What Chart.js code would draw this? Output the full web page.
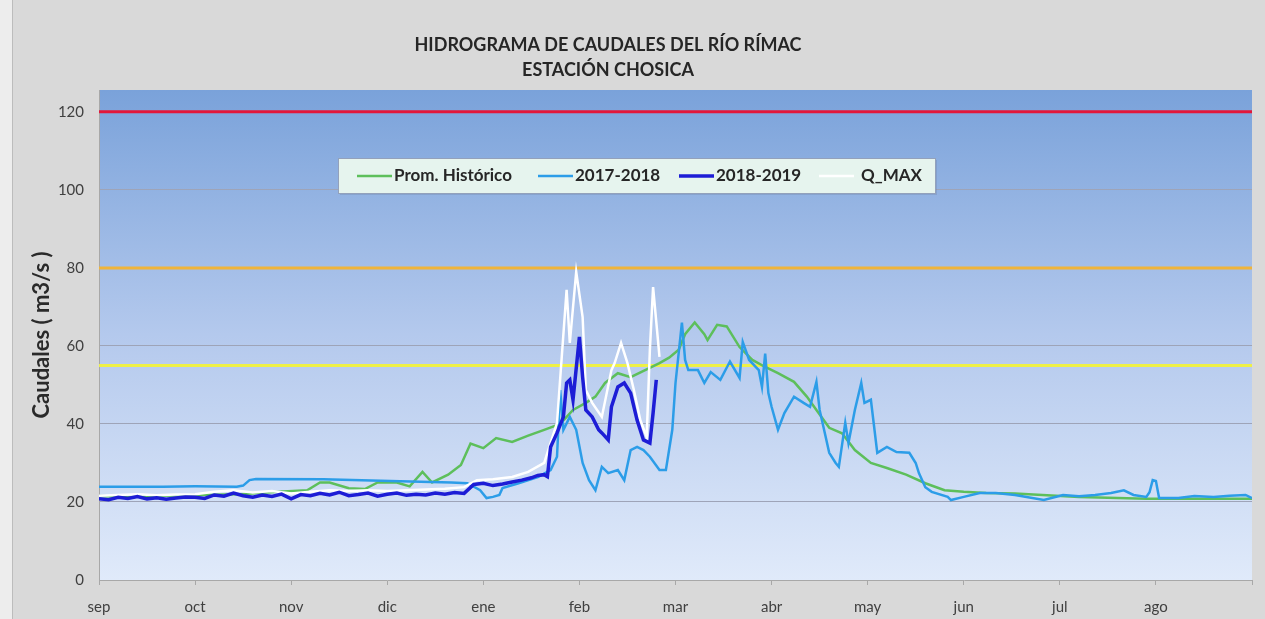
<!DOCTYPE html>
<html>
<head>
<meta charset="utf-8">
<script src="https://cdn.jsdelivr.net/npm/chart.js@4.4.0/dist/chart.umd.min.js"></script>
<style>
html,body{margin:0;padding:0;background:#d9d9d9;}
#wrap{width:1265px;height:619px;position:relative;}
</style>
</head>
<body>
<div id="wrap"><canvas id="c"></canvas></div>
<script>
// ---------- data ----------
const monthLabels = ['sep','oct','nov','dic','ene','feb','mar','abr','may','jun','jul','ago'];
const yTicks = [0,20,40,60,80,100,120];
const titleLines = ['HIDROGRAMA DE CAUDALES DEL RÍO RÍMAC','ESTACIÓN CHOSICA'];
const seriesNames = ['Prom. Histórico','2017-2018','2018-2019','Q_MAX'];
const yAxisTitle = 'Caudales ( m3/s )';

// day index from 1 September
const promDays = [0,10,19,31,44,56,65,69,72,78,83,87,93,97,101,104,109,113,116,120,124,129,134,139,144,148,152,155,158,162,166,171,175,178,181,183,186,189,190,193,196,200,204,208,212,217,221,224,228,232,236,241,246,252,258,264,270,277,286,306,327,360];
const promVals = [21.5,21.3,21.6,21.8,22.0,22.6,23.0,25.0,25.0,23.5,23.3,25.0,25.0,24.0,27.7,25.0,27.0,29.5,35.0,33.8,36.4,35.4,37.0,38.5,40.0,43.6,45.4,47.0,50.5,53.0,52.0,54.0,55.6,57.0,59.0,63.0,66.0,63.0,61.5,65.4,65.0,59.7,56.4,54.6,53.0,50.8,47.0,43.6,39.0,37.6,33.3,30.0,28.7,27.0,24.8,23.0,22.6,22.3,22.2,21.3,20.8,20.8];

const s1718Days = [0,20,30,43,45,47,49,70,94,110,115,119,121,123,125,126,131,137,141,143,144,145,147,149,151,153,155,157,159,162,164,166,168,170,172,175,177,179,180,182,183,184,187,189,191,194,197,200,201,203,206,207,208,209,210,212,214,217,220,222,224,225,228,230,231,233,234,236,238,239,241,243,246,249,253,255,256,258,260,265,266,270,275,280,286,295,301,306,311,316,320,323,327,328,329,330,331,337,342,348,353,358,360];
const s1718Vals = [23.9,23.9,24.0,23.9,24.2,25.6,25.9,25.8,25.3,25.0,24.8,23.0,21.0,21.3,21.8,23.6,24.8,26.4,28.2,31.6,48.7,38.5,41.8,38.5,30.0,25.6,23.0,29.0,27.4,28.2,25.6,33.3,34.1,33.3,31.6,28.2,28.2,38.5,50.5,66.0,56.4,53.8,53.8,50.5,53.3,51.3,56.0,51.8,61.0,56.4,53.8,49.5,58.0,47.9,44.4,38.5,42.8,47.0,45.4,44.4,50.8,43.6,32.6,30.0,29.0,40.3,35.1,43.6,50.5,45.4,46.2,32.6,34.1,32.8,32.6,30.0,27.4,23.8,22.6,21.3,20.5,21.3,22.3,22.3,21.8,20.5,21.8,21.5,21.8,22.3,23.0,21.8,21.3,22.5,25.6,25.4,21.0,21.0,21.5,21.3,21.6,21.8,21.0];

const s1819Days = [0,3,6,9,12,15,18,21,24,27,30,33,36,39,42,45,48,51,54,57,60,63,66,69,72,75,78,81,84,87,90,93,96,99,102,105,108,111,114,117,120,123,126,129,132,135,137,139,140,141,143,145,146,147,148,150,151,152,154,156,157,159,160,162,164,166,168,170,172,173,174];
const s1819Vals = [20.8,20.6,21.2,20.9,21.4,20.8,21.1,20.7,21.0,21.3,21.2,20.9,21.8,21.5,22.3,21.6,21.2,21.8,21.4,22.0,20.8,21.9,21.6,22.2,21.8,22.5,21.6,21.9,22.3,21.5,22.0,22.3,21.7,22.0,21.8,22.3,22.0,22.4,22.2,24.5,24.8,24.2,24.6,25.1,25.6,26.2,26.8,27.0,26.5,34.1,37.7,41.8,50.5,51.3,46.2,62.3,52.0,43.6,41.8,38.5,37.7,35.9,44.4,49.5,50.5,47.9,41.0,35.9,35.1,42.8,51.3];

const qmaxDays = [0,6,12,18,24,30,36,42,48,54,60,66,72,78,84,90,96,102,108,114,118,123,129,134,139,143,146,147,149,151,152,154,157,160,161,163,165,167,169,171,172,173,175];
const qmaxVals = [21.6,21.8,22.0,21.7,21.9,22.0,22.6,23.0,22.4,22.8,22.2,22.6,23.0,22.8,23.0,22.8,23.0,23.2,23.4,23.8,25.6,25.8,26.4,27.7,30.0,40.3,74.4,60.8,79.0,67.4,48.7,45.4,41.8,53.8,55.6,60.8,55.6,48.7,41.0,36.7,59.0,75.1,57.2];

const thresholdVals = [120, 80, 55];
const axisDays = [0, 360];

// ---------- chart ----------
const FONT = 'Lato, "Open Sans", sans-serif';
const pts = (d, v) => d.map((x, i) => ({x: x, y: v[i]}));
const flat = (v) => axisDays.map(x => ({x: x, y: v}));

const seriesColors = ['#5dbf5b', '#2c9de8', '#1d1dd6', '#ffffff'];
const seriesWidths = [2.5, 2.5, 3.5, 2.5];

const bgPlugin = {
  id: 'bg',
  beforeDraw(chart) {
    const {ctx, chartArea: a, width, height} = chart;
    ctx.save();
    ctx.fillStyle = '#d9d9d9';
    ctx.fillRect(0, 0, width, height);
    ctx.fillStyle = '#ededed';
    ctx.fillRect(0, 0, 12, height);
    ctx.fillStyle = '#bcbcbc';
    ctx.fillRect(12, 0, 1, height);
    const g = ctx.createLinearGradient(0, a.top, 0, a.bottom);
    g.addColorStop(0, '#7aa2da');
    g.addColorStop(0.5, '#b4c9ed');
    g.addColorStop(1, '#e0eafa');
    ctx.fillStyle = g;
    ctx.fillRect(a.left, a.top, a.right - a.left, a.bottom - a.top);
    ctx.restore();
  }
};

const titlePlugin = {
  id: 'ttl',
  afterDraw(chart) {
    const ctx = chart.ctx;
    ctx.save();
    ctx.fillStyle = '#262626';
    ctx.font = 'bold 18px ' + FONT;
    ctx.textAlign = 'center';
    ctx.textBaseline = 'middle';
    ctx.fillText(titleLines[0], 608, 45);
    ctx.fillText(titleLines[1], 608, 70);
    ctx.restore();
  }
};

const legendPlugin = {
  id: 'lgd',
  afterDatasetsDraw(chart) {
    const ctx = chart.ctx;
    const bx = 338, by = 158, bw = 597, bh = 35;
    ctx.save();
    ctx.fillStyle = 'rgba(90,100,130,0.2)';
    ctx.fillRect(bx + 2, by + 2, bw, bh);
    ctx.fillStyle = '#e6f4ee';
    ctx.fillRect(bx, by, bw, bh);
    ctx.strokeStyle = '#93a1bb';
    ctx.lineWidth = 1;
    ctx.strokeRect(bx + 0.5, by + 0.5, bw, bh);
    const slots = [357, 538, 679, 819];
    const textOff = [37, 37, 37, 42];
    const ly = by + bh / 2 + 0.5;
    ctx.font = 'bold 17px ' + FONT;
    ctx.textBaseline = 'middle';
    ctx.textAlign = 'left';
    for (let i = 0; i < 4; i++) {
      const ds = chart.data.datasets[i];
      ctx.strokeStyle = ds.borderColor;
      ctx.lineWidth = ds.borderWidth;
      ctx.beginPath();
      ctx.moveTo(slots[i], ly);
      ctx.lineTo(slots[i] + 35, ly);
      ctx.stroke();
      ctx.fillStyle = '#262626';
      ctx.fillText(ds.label, slots[i] + textOff[i], ly);
    }
    ctx.restore();
  }
};

const datasets = [
  {label: seriesNames[0], data: pts(promDays, promVals), order: 3},
  {label: seriesNames[1], data: pts(s1718Days, s1718Vals), order: 2},
  {label: seriesNames[2], data: pts(s1819Days, s1819Vals), order: 0},
  {label: seriesNames[3], data: pts(qmaxDays, qmaxVals), order: 1}
].map((d, i) => Object.assign(d, {
  borderColor: seriesColors[i], borderWidth: seriesWidths[i],
  pointRadius: 0, tension: 0, fill: false
}));

const thrColors = ['#e2173a', '#f0b43a', '#eef046'];
thresholdVals.forEach((v, i) => datasets.push({
  label: 'lim' + v, data: flat(v), borderColor: thrColors[i], borderWidth: 3,
  pointRadius: 0, tension: 0, fill: false, order: 5
}));

new Chart(document.getElementById('c'), {
  type: 'line',
  data: {datasets: datasets},
  plugins: [bgPlugin, legendPlugin, titlePlugin],
  options: {
    responsive: true,
    maintainAspectRatio: false,
    animation: false,
    devicePixelRatio: 1,
    layout: {padding: {top: 90, right: 10, left: 0, bottom: 0}},
    plugins: {legend: {display: false}, tooltip: {enabled: false}, title: {display: false}},
    scales: {
      x: {
        type: 'linear', min: 0, max: 360,
        afterBuildTicks: (s) => { s.ticks = monthLabels.map((m, i) => ({value: i * 30})).concat([{value: 360}]); },
        afterFit: (s) => { s.height = 39; },
        ticks: {
          autoSkip: false, maxRotation: 0, padding: 13,
          color: '#404040', font: {family: FONT, size: 15},
          callback: (v) => monthLabels[v / 30] || ''
        },
        grid: {display: true, drawOnChartArea: false, drawTicks: true, tickLength: 5, color: '#a8a8a8'},
        border: {display: true, color: '#a8a8a8', width: 1}
      },
      y: {
        type: 'linear', min: 0, max: 125.6,
        afterBuildTicks: (s) => { s.ticks = yTicks.map(v => ({value: v})); },
        afterFit: (s) => { s.width = 99; },
        ticks: {padding: 15, color: '#404040', font: {family: FONT, size: 15}},
        grid: {color: (c) => c.tick && c.tick.value === 0 ? 'rgba(0,0,0,0)' : '#9ea4b8', lineWidth: 1, drawTicks: false},
        border: {display: true, color: '#a8a8a8', width: 1},
        title: {display: true, text: yAxisTitle, color: '#2a2a2a',
                font: {family: FONT, size: 22, weight: 'bold'}, padding: {top: 29, bottom: 0}}
      }
    }
  }
});
</script>
</body>
</html>
